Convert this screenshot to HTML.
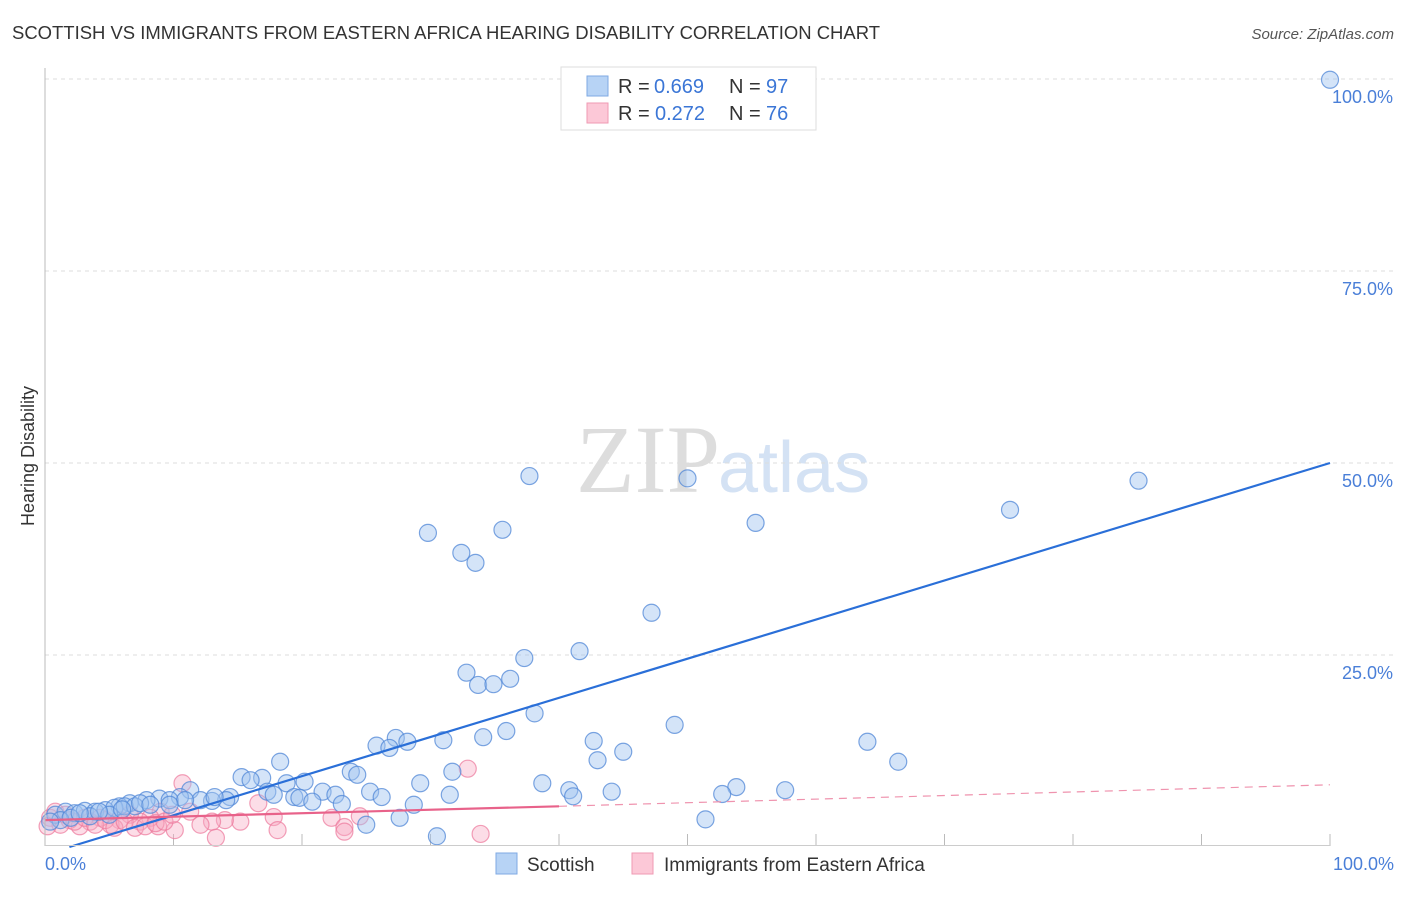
<!DOCTYPE html>
<html><head><meta charset="utf-8"><style>
body{margin:0;background:#fff;font-family:"Liberation Sans",sans-serif}
</style></head><body>
<svg id="c" width="1406" height="892" xmlns="http://www.w3.org/2000/svg">
<text x="12" y="39" font-size="18" fill="#333" textLength="868" lengthAdjust="spacingAndGlyphs">SCOTTISH VS IMMIGRANTS FROM EASTERN AFRICA HEARING DISABILITY CORRELATION CHART</text>
<text x="1394" y="39" font-size="15" fill="#555" font-style="italic" text-anchor="end">Source: ZipAtlas.com</text>
<text transform="translate(34,456) rotate(-90)" font-size="18" fill="#333" text-anchor="middle">Hearing Disability</text>
<text x="720" y="492" font-size="96" fill="#ddd" text-anchor="end" font-family="Liberation Serif">ZIP</text>
<text x="718" y="492" font-size="72" fill="#d4e2f4">atlas</text>
<g id="grid"></g><g id="pts"></g><g id="lines"></g>
<line x1="45" y1="68" x2="45" y2="846" stroke="#bbb"/>
<line x1="45" y1="845.5" x2="1330" y2="845.5" stroke="#ccc"/>
<text x="45" y="870" font-size="18" fill="#4a7fd8">0.0%</text>
<text x="1394" y="870" font-size="18" fill="#4a7fd8" text-anchor="end">100.0%</text>
<g>
<rect x="561" y="67" width="255" height="63" fill="#fff" stroke="#ddd"/>
<rect x="587" y="76" width="21" height="20" fill="#b7d3f5" stroke="#7fa9e3"/>
<rect x="587" y="103" width="21" height="20" fill="#fcc8d7" stroke="#ef9ab3"/>
<text x="618" y="93" font-size="20" fill="#333">R =</text>
<text x="654" y="93" font-size="20" fill="#3b76d6">0.669</text>
<text x="729" y="93" font-size="20" fill="#333">N =</text>
<text x="766" y="93" font-size="20" fill="#3b76d6">97</text>
<text x="618" y="120" font-size="20" fill="#333">R =</text>
<text x="655" y="120" font-size="20" fill="#3b76d6">0.272</text>
<text x="729" y="120" font-size="20" fill="#333">N =</text>
<text x="766" y="120" font-size="20" fill="#3b76d6">76</text>
</g>
<g>
<rect x="496" y="853" width="21" height="21" fill="#b7d3f5" stroke="#7fa9e3"/>
<text x="527" y="871" font-size="19" fill="#333">Scottish</text>
<rect x="632" y="853" width="21" height="21" fill="#fcc8d7" stroke="#ef9ab3"/>
<text x="664" y="871" font-size="19" fill="#333">Immigrants from Eastern Africa</text>
</g>
</svg>
<script>
const yTicks=[25,50,75,100];
const yTickLabels=["25.0%","50.0%","75.0%","100.0%"];
const xTicks=[10,20,30,40,50,60,70,80,90,100];
const blueX=[100,37.7,50,85.1,75.1,55.3,29.8,35.6,32.4,33.5,47.2,41.6,37.3,32.8,36.2,33.7,34.9,38.1,49,35.9,34.1,42.7,31,27.3,28.2,25.8,26.8,64,45,43,66.4,18.3,23.8,24.3,31.7,15.3,16.9,16,20.2,29.2,38.7,53.8,40.8,57.6,17.3,18.8,21.6,11.3,25.3,31.5,44.1,52.7,41.1,19.4,22.6,17.8,19.8,26.2,28.7,23.1,20.8,14.4,14.1,13,12.1,10.5,8.9,7.9,6.6,5.8,25,27.6,51.4,30.5,0.8,1.6,2.3,3.1,3.9,4.7,5.4,6.2,7,9.7,10.9,13.2,9.7,5,3.5,1.2,2,0.4,7.4,8.2,4.2,2.7,6];
const blueY=[99.9,48.3,48,47.7,43.9,42.2,40.9,41.3,38.3,37,30.5,25.5,24.6,22.7,21.9,21.1,21.2,17.4,15.9,15.1,14.3,13.8,13.9,14.2,13.7,13.2,12.9,13.7,12.4,11.3,11.1,11.1,9.8,9.4,9.8,9.1,9,8.7,8.5,8.3,8.3,7.8,7.4,7.4,7.2,8.3,7.2,7.4,7.2,6.8,7.2,6.9,6.6,6.5,6.8,6.8,6.4,6.5,5.5,5.6,5.9,6.5,6.1,6,6.1,6.5,6.3,6.1,5.7,5.3,2.9,3.8,3.6,1.4,4.2,4.6,4.4,4.7,4.6,4.8,5.1,5.3,5.3,6.1,6.1,6.5,5.5,4.2,4.0,3.5,3.8,3.3,5.7,5.5,4.6,4.4,4.9];
const pinkX=[10.7,32.9,16.6,24.5,22.3,17.8,15.2,14,13,13.3,18.1,23.3,23.3,33.9,10.1,8.8,9,8.2,7.4,6.6,5.8,5.1,4.3,3.5,2.7,1.9,1.2,0.4,0.2,0.8,1.6,2.3,3.1,3.9,4.7,5.4,6.2,7,7.8,8.6,9.3,9.9,11.3,12.1];
const pinkY=[8.3,10.2,5.7,4,3.8,3.9,3.3,3.5,3.3,1.2,2.2,2.6,2,1.7,2.2,2.7,4.6,3.8,3.3,4.2,3.5,2.9,3.8,3.3,2.7,3.5,2.9,3.8,2.7,4.6,4.2,3.3,3.8,2.9,3.5,2.5,3.3,2.5,2.7,3.1,3.3,4.2,4.6,2.9];
const blueLine=[[1.9,0],[100,50]];
const pinkLine=[[0,3.5],[40,5.3],[100,8.1]];
const NS='http://www.w3.org/2000/svg';
const sx=v=>45+v*12.85, sy=v=>847-v*7.68;
function mk(t,a,p){const e=document.createElementNS(NS,t);for(const k in a)e.setAttribute(k,a[k]);document.getElementById(p).appendChild(e);return e;}
yTicks.forEach((t,i)=>{
 const g=mk('line',{x1:45,x2:1394,y1:sy(t),y2:sy(t),stroke:'#ddd','stroke-dasharray':'4,4'},'grid');
 
 
 const l=mk('text',{x:1393,y:sy(t)+24,'font-size':18,fill:'#4a7fd8','text-anchor':'end'},'grid');
 l.textContent=yTickLabels[i];
 
 
});
xTicks.forEach(t=>{
 const g=mk('line',{x1:sx(t),x2:sx(t),y1:834,y2:846,stroke:'#bbb'},'grid');
 
 
});
pinkX.forEach((x,i)=>{
 const c=mk('circle',{cx:sx(x),cy:sy(pinkY[i]),r:8.5,fill:'rgba(248,170,195,0.4)',stroke:'rgba(236,120,155,0.7)','stroke-width':1.2},'pts');
 
 
});
blueX.forEach((x,i)=>{
 const c=mk('circle',{cx:sx(x),cy:sy(blueY[i]),r:8.5,fill:'rgba(160,196,240,0.45)',stroke:'rgba(80,135,215,0.75)','stroke-width':1.2},'pts');
 
 
});
const bl=mk('line',{x1:sx(blueLine[0][0]),y1:sy(blueLine[0][1]),x2:sx(blueLine[1][0]),y2:sy(blueLine[1][1]),stroke:'#2a6fd8','stroke-width':2.2},'lines');


const pl=mk('line',{x1:sx(pinkLine[0][0]),y1:sy(pinkLine[0][1]),x2:sx(pinkLine[1][0]),y2:sy(pinkLine[1][1]),stroke:'#e8628a','stroke-width':2.2},'lines');


const pd=mk('line',{x1:sx(pinkLine[1][0]),y1:sy(pinkLine[1][1]),x2:sx(pinkLine[2][0]),y2:sy(pinkLine[2][1]),stroke:'#ef93ae','stroke-width':1.2,'stroke-dasharray':'8,6'},'lines');


</script>
</body></html>
